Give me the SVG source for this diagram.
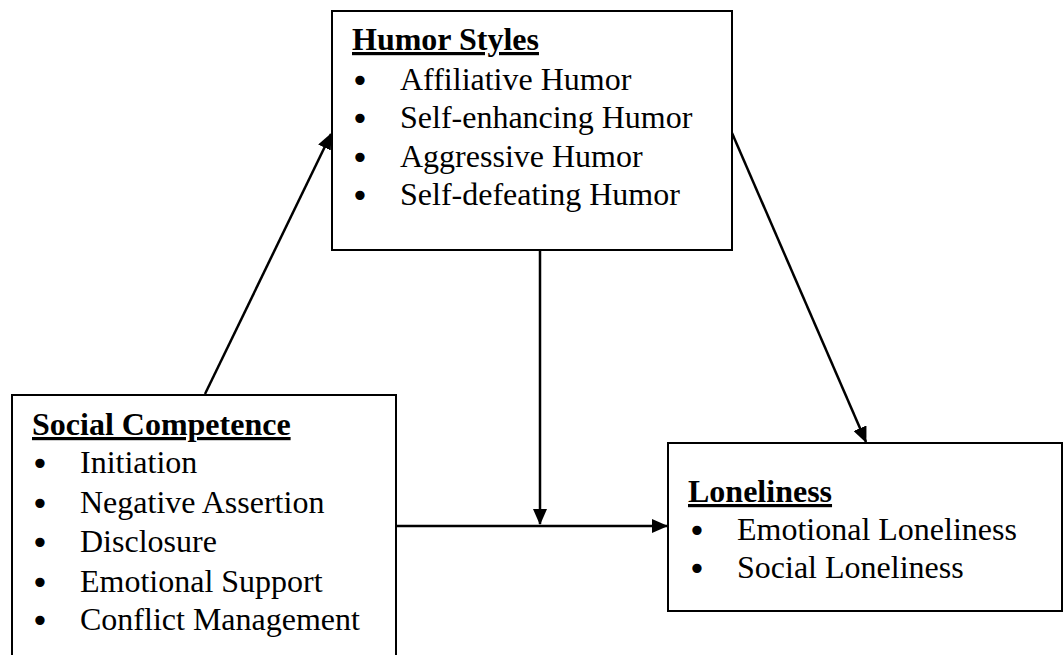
<svg xmlns="http://www.w3.org/2000/svg" width="1064" height="655" viewBox="0 0 1064 655">
<style>
.box{fill:#fff;stroke:#000;stroke-width:2}
.t{font-family:"Liberation Serif","Times New Roman",serif;font-size:32px;fill:#000}
.b{font-family:"DejaVu Sans",sans-serif;font-size:32px;fill:#000;text-anchor:middle}
.h{font-weight:bold;text-decoration:underline}
.c{stroke:#000;stroke-width:2.5;fill:none}
</style>
<defs>
<marker id="ah" markerUnits="userSpaceOnUse" markerWidth="16" markerHeight="14" refX="15" refY="7" orient="auto">
<path d="M0,0 L16,7 L0,14 Z" fill="#000"/>
</marker>
</defs>
<g id="connectors">
<line class="c" x1="205" y1="394" x2="331" y2="134" marker-end="url(#ah)"/>
<line class="c" x1="732" y1="133" x2="866" y2="442" marker-end="url(#ah)"/>
<line class="c" x1="540" y1="250" x2="540" y2="524" marker-end="url(#ah)"/>
<line class="c" x1="396" y1="526" x2="667" y2="526" marker-end="url(#ah)"/>
</g>
<g id="humor">
<rect class="box" x="332" y="11" width="400" height="239"/>
<text class="t h" x="352" y="50">Humor Styles</text>
<text class="b" x="360" y="92">•</text><text class="t" x="400" y="90">Affiliative Humor</text>
<text class="b" x="360" y="130">•</text><text class="t" x="400" y="128">Self-enhancing Humor</text>
<text class="b" x="360" y="169">•</text><text class="t" x="400" y="167">Aggressive Humor</text>
<text class="b" x="360" y="207">•</text><text class="t" x="400" y="205">Self-defeating Humor</text>
</g>
<g id="social">
<rect class="box" x="12" y="395" width="384" height="270"/>
<text class="t h" x="32" y="435">Social Competence</text>
<text class="b" x="40" y="475">•</text><text class="t" x="80" y="473">Initiation</text>
<text class="b" x="40" y="515">•</text><text class="t" x="80" y="513">Negative Assertion</text>
<text class="b" x="40" y="554">•</text><text class="t" x="80" y="552">Disclosure</text>
<text class="b" x="40" y="594">•</text><text class="t" x="80" y="592">Emotional Support</text>
<text class="b" x="40" y="632">•</text><text class="t" x="80" y="630">Conflict Management</text>
</g>
<g id="loneliness">
<rect class="box" x="668" y="443" width="394" height="168"/>
<text class="t h" x="688" y="502">Loneliness</text>
<text class="b" x="697" y="542">•</text><text class="t" x="737" y="540">Emotional Loneliness</text>
<text class="b" x="697" y="580">•</text><text class="t" x="737" y="578">Social Loneliness</text>
</g>
</svg>
